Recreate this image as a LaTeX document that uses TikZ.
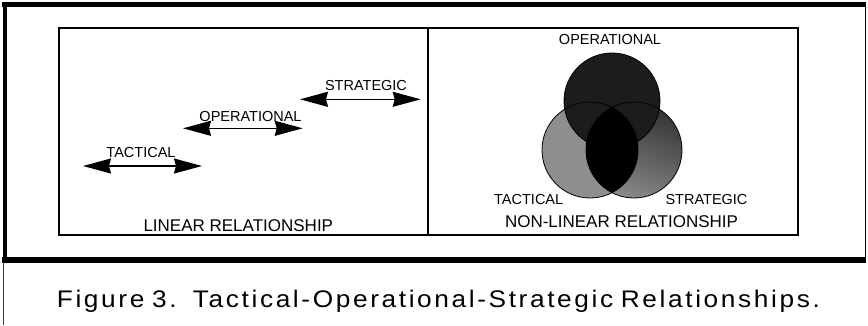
\documentclass[tikz,border=0pt]{standalone}
\usepackage{fontspec}
\setmainfont{Liberation Sans}
\newfontfamily\capfont[LetterSpace=10]{Liberation Sans}
\usetikzlibrary{arrows.meta}
\tikzset{
  lbl/.style={anchor=base, inner sep=0pt, font=\fontsize{14.5}{17}\selectfont},
  ttl/.style={anchor=base, inner sep=0pt, font=\fontsize{17}{20}\selectfont},
  dblarrow/.style={line width=1.4pt,
    {Stealth[length=28pt,width=15pt,inset=2pt]}-{Stealth[length=28pt,width=15pt,inset=2pt]}},
  venn/.style={draw=black, line width=0.8pt}
}
\definecolor{gleft}{HTML}{8E8E8E}
\definecolor{gtop}{HTML}{1C1C1C}
\definecolor{gdark}{HTML}{333333}
\definecolor{glight}{HTML}{8A8A8A}
\begin{document}
\begin{tikzpicture}[x=1pt,y=-1pt]
\useasboundingbox (0,0) rectangle (868,325);
% outer frame
\draw[line width=5.5pt] (2,4.5) -- (866,4.5);
\draw[line width=4.5pt] (5,2) -- (5,262);
\draw[line width=6pt] (2,259.5) -- (866,259.5);
\draw[line width=1.5pt] (865.5,2) -- (865.5,262);
\draw[line width=1.2pt, black!75] (3.3,262) -- (3.3,325);
% inner frame
\draw[line width=2pt] (59,28) rectangle (797.5,234.5);
\draw[line width=1.5pt] (428,28) -- (428,234.5);
% linear panel
\coordinate (ta) at (83,166);   \coordinate (tb) at (202,166);
\coordinate (oa) at (183,128.3); \coordinate (ob) at (302.7,128.3);
\coordinate (sa) at (300,99.3);  \coordinate (sb) at (420.7,99.3);
\draw[dblarrow] (ta) -- (tb);
\draw[dblarrow] (oa) -- (ob);
\draw[dblarrow] (sa) -- (sb);
\node[lbl] (ltac) at (141,157.7) {TACTICAL};
\node[lbl] (lop) at (250.5,121.7) {OPERATIONAL};
\node[lbl] (lstr) at (366,90.7) {STRATEGIC};
\node[ttl] (lin) at (238.3,231.7) {LINEAR RELATIONSHIP};
% venn
\coordinate (cl) at (590,150);
\coordinate (cr) at (634,150);
\coordinate (ct) at (612,101);
\fill[gleft] (cl) circle[radius=48pt];
\shade[top color=gdark, bottom color=glight, shading angle=-20] (cr) circle[radius=48pt];
\fill[gtop] (ct) circle[radius=48pt];
\begin{scope}
  \clip (cl) circle[radius=48pt];
  \fill[black] (cr) circle[radius=48pt];
\end{scope}
\draw[venn] (cl) circle[radius=48pt];
\draw[venn] (cr) circle[radius=48pt];
\draw[venn] (ct) circle[radius=48pt];
\node[lbl] (rop) at (610,44) {OPERATIONAL};
\node[lbl] (rtac) at (528.7,204) {TACTICAL};
\node[lbl] (rstr) at (706.5,204) {STRATEGIC};
\node[ttl] (nonlin) at (621.5,227.7) {NON-LINEAR RELATIONSHIP};
% caption
\node[anchor=base west, inner sep=0pt] (cap) at (56.7,307.3)
  {\resizebox{763pt}{\height}{\capfont\fontsize{24}{28}\selectfont Figure\hspace{7pt}3.\hspace{15pt}Tactical-Operational-Strategic\hspace{7pt}Relationships.}};
\end{tikzpicture}
\end{document}
